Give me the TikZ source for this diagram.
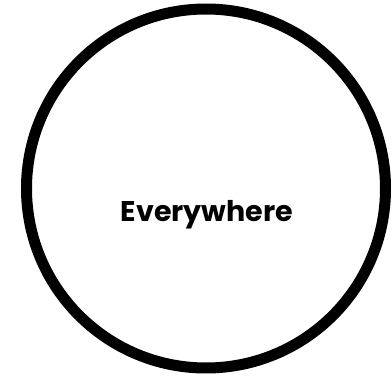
\documentclass[tikz,border=0pt]{standalone}
\usepackage{fontspec}
\setmainfont{Poppins}
\usepackage{tikz}
\usetikzlibrary{positioning}

\begin{document}
\begin{tikzpicture}[x=1pt,y=1pt,
  ring/.style={draw=black,circle,line width=11pt,minimum size=359pt,inner sep=0pt},
  word/.style={font=\fontsize{28.5}{32}\selectfont\bfseries,inner sep=0pt}]
  \useasboundingbox (0,0) rectangle (392,378);
  \node[ring] (circ) at (206,189.5) {};
  \node[word,anchor=base] (txt) at ([xshift=1pt,yshift=-33.5pt]circ.center) {Everywhere};
\end{tikzpicture}
\end{document}
